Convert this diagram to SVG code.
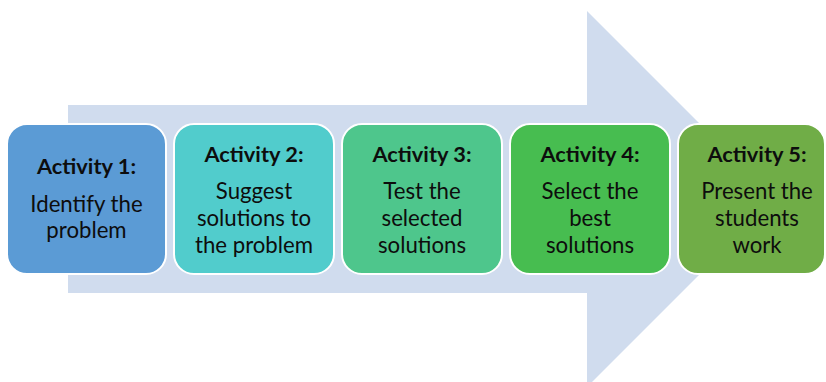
<svg xmlns="http://www.w3.org/2000/svg" width="826" height="382" viewBox="0 0 826 382">
<style>
.box{stroke:#ffffff;stroke-width:2}
.t{font-family:Lato,"Open Sans","Liberation Sans",sans-serif;font-size:22px;fill:#0d0d0d;text-anchor:middle}
.h{font-weight:bold;font-size:21.8px}
.b{font-size:22.2px}
</style>
<rect width="826" height="382" fill="#ffffff"/>
<g id="arrow">
<polygon points="68,105 587,105 587,11 775,199 587,387 587,293 68,293" fill="#d0dcee"/>
</g>
<g id="connectors"></g>
<g id="activity1">
<rect class="box" x="7" y="124" width="159" height="150" rx="20" fill="#5b9bd5"/>
<text class="t h" x="86.5" y="174">Activity 1:</text>
<text class="t b" x="86.5" y="212">Identify the</text>
<text class="t b" x="86.5" y="238">problem</text>
</g>
<g id="activity2">
<rect class="box" x="174" y="124" width="160" height="150" rx="20" fill="#51cccc"/>
<text class="t h" x="254" y="162">Activity 2:</text>
<text class="t b" x="254" y="199">Suggest</text>
<text class="t b" x="254" y="226">solutions to</text>
<text class="t b" x="254" y="253">the problem</text>
</g>
<g id="activity3">
<rect class="box" x="342" y="124" width="160" height="150" rx="20" fill="#4ec68c"/>
<text class="t h" x="422" y="162">Activity 3:</text>
<text class="t b" x="422" y="199">Test the</text>
<text class="t b" x="422" y="226">selected</text>
<text class="t b" x="422" y="253">solutions</text>
</g>
<g id="activity4">
<rect class="box" x="510" y="124" width="160" height="150" rx="20" fill="#47bd50"/>
<text class="t h" x="590" y="162">Activity 4:</text>
<text class="t b" x="590" y="199">Select the</text>
<text class="t b" x="590" y="226">best</text>
<text class="t b" x="590" y="253">solutions</text>
</g>
<g id="activity5">
<rect class="box" x="678" y="124" width="147" height="150" rx="20" fill="#70ad47"/>
<text class="t h" x="757" y="162">Activity 5:</text>
<text class="t b" x="757" y="199">Present the</text>
<text class="t b" x="757" y="226">students</text>
<text class="t b" x="757" y="253">work</text>
</g>
</svg>
